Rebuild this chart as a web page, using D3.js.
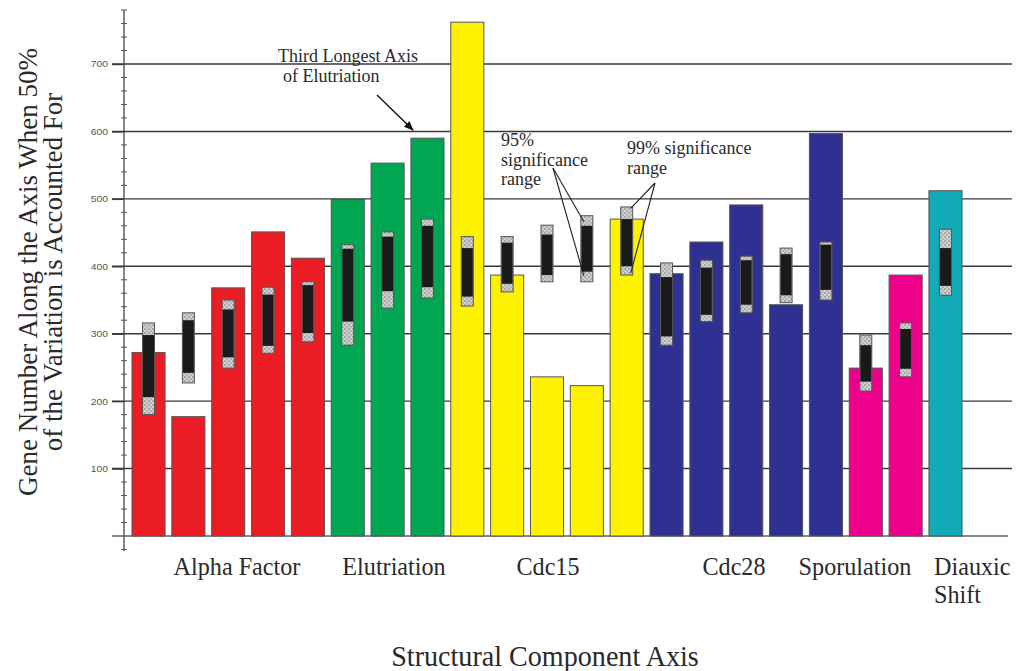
<!DOCTYPE html>
<html>
<head>
<meta charset="utf-8">
<script src="https://cdn.jsdelivr.net/npm/d3@7"></script>
<style>
  html, body { margin: 0; padding: 0; background: #fff; }
  svg { display: block; }
  text { font-family: "Liberation Serif", "Times New Roman", serif; fill: #2a2a2a; }
</style>
</head>
<body>
<svg id="chart" width="1030" height="671"></svg>
<script>
// Experiment groups along the structural component axis
const groupNames  = ["Alpha Factor", "Elutriation", "Cdc15", "Cdc28", "Sporulation", "Diauxic Shift"];
const groupCounts = [5, 3, 5, 5, 2, 1];
const groupColors = ["#ec1c24", "#00a651", "#fff200", "#2e3192", "#ec008c", "#12aab6"];

// Gene number at which 50% of the variation is accounted for, one per axis
const barValues = [272, 177, 368, 451, 412,
                   499, 553, 590,
                   762, 387, 236, 223, 470,
                   389, 436, 491, 343, 597,
                   249, 387,
                   512];

// Significance ranges per axis: 99% low, 95% low, 95% high, 99% high
const low99  = [180, 227, 249, 271, 288, 283, 338, 353, 341, 362, 377, 377, 387, 283, 318, 331, 346, 350, 215, 236, 357];
const low95  = [206, 242, 265, 282, 301, 318, 363, 369, 355, 374, 387, 392, 400, 296, 328, 343, 357, 365, 229, 248, 371];
const high95 = [298, 320, 336, 358, 372, 426, 444, 460, 427, 435, 447, 460, 470, 384, 398, 409, 418, 432, 283, 307, 427];
const high99 = [316, 331, 350, 369, 377, 432, 451, 470, 444, 444, 461, 475, 488, 405, 409, 415, 427, 436, 298, 316, 455];

const yTicks = [100, 200, 300, 400, 500, 600, 700];

const svg = d3.select("#chart");

// Build one record per bar from the arrays above
const rows = [];
let idx = 0;
groupCounts.forEach((n, g) => {
  for (let k = 0; k < n; k++) {
    rows.push({ i: idx, group: g, value: barValues[idx],
                lo99: low99[idx], lo95: low95[idx], hi95: high95[idx], hi99: high99[idx] });
    idx++;
  }
});

const x = d3.scaleBand()
  .domain(rows.map(d => d.i))
  .range([128.6, 965.4])
  .paddingInner(0.17)
  .paddingOuter(0.085);

const y = d3.scaleLinear().domain([0, 700]).range([536, 64]);

// checkered fill used for the 99% caps
const defs = svg.append("defs");
const pat = defs.append("pattern")
  .attr("id", "checker").attr("patternUnits", "userSpaceOnUse")
  .attr("width", 4).attr("height", 4);
pat.append("rect").attr("width", 4).attr("height", 4).attr("fill", "#cfcfcf");
pat.append("rect").attr("width", 2).attr("height", 2).attr("fill", "#a9a9a9");
pat.append("rect").attr("x", 2).attr("y", 2).attr("width", 2).attr("height", 2).attr("fill", "#b4b4b4");

// horizontal grid lines
svg.append("g").selectAll("line").data(yTicks).join("line")
  .attr("x1", 112).attr("x2", 1012)
  .attr("y1", d => y(d)).attr("y2", d => y(d))
  .attr("stroke", "#3a3a3a").attr("stroke-width", 1.4);

// baseline
svg.append("line")
  .attr("x1", 112).attr("x2", 1008).attr("y1", y(0)).attr("y2", y(0))
  .attr("stroke", "#888").attr("stroke-width", 2);

// y axis with long ticks every 100 and short ones every 20
const axisG = svg.append("g").attr("transform", "translate(124,0)");
const yAxis = d3.axisLeft(y).tickValues(yTicks).tickSize(12).tickPadding(2).tickFormat(d3.format("d"));
axisG.call(yAxis);
axisG.select(".domain").remove();
axisG.selectAll(".tick line").attr("stroke", "#3a3a3a").attr("stroke-width", 1.4);
axisG.selectAll(".tick text")
  .style("font-family", "'Liberation Sans', Arial, sans-serif")
  .style("font-size", "9px").style("fill", "#555")
  .attr("transform", "scale(1.15,1)");
axisG.append("line")
  .attr("x1", 0).attr("x2", 0).attr("y1", 10).attr("y2", 551)
  .attr("stroke", "#444").attr("stroke-width", 1.3);
const minorTicks = d3.range(-20, 800, 20).filter(v => y(v) > 10 && v % 100 !== 0);
axisG.selectAll(".minor").data(minorTicks).join("line")
  .attr("class", "minor")
  .attr("x1", -3).attr("x2", 3)
  .attr("y1", d => y(d)).attr("y2", d => y(d))
  .attr("stroke", "#555").attr("stroke-width", 1);

// bars
svg.append("g").selectAll("rect").data(rows).join("rect")
  .attr("x", d => x(d.i))
  .attr("width", x.bandwidth())
  .attr("y", d => y(d.value))
  .attr("height", d => y(0) - y(d.value))
  .attr("fill", d => groupColors[d.group])
  .attr("stroke", "#555").attr("stroke-width", 1);

// significance glyphs: 99% range checkered, 95% range black
const gw = 12;
const glyph = svg.append("g").selectAll("g").data(rows).join("g");
glyph.append("rect")
  .attr("x", d => x(d.i) + x.bandwidth() / 2 - gw / 2)
  .attr("width", gw)
  .attr("y", d => y(d.hi99))
  .attr("height", d => y(d.lo99) - y(d.hi99))
  .attr("fill", "url(#checker)")
  .attr("stroke", "#555").attr("stroke-width", 1);
glyph.append("rect")
  .attr("x", d => x(d.i) + x.bandwidth() / 2 - gw / 2 + 0.5)
  .attr("width", gw - 1)
  .attr("y", d => y(d.hi95))
  .attr("height", d => y(d.lo95) - y(d.hi95))
  .attr("fill", "#1a1a1a");

// helper for the slightly condensed serif labels
function label(px, py, str, size, sx, anchor) {
  return svg.append("text")
    .attr("transform", `translate(${px},${py}) scale(${sx},1)`)
    .attr("text-anchor", anchor || "start")
    .style("font-size", size + "px")
    .text(str);
}

// group labels under the axis
const labelPos = [237, 394, 548, 734, 855];
groupNames.slice(0, 5).forEach((name, g) => {
  label(labelPos[g], 575, name, 26, 0.93, "middle");
});
const [diauxA, diauxB] = groupNames[5].split(" ");
label(934, 575, diauxA, 26, 0.93);
label(934, 603, diauxB, 26, 0.93);

// axis titles
label(545, 666, "Structural Component Axis", 29, 0.97, "middle");

const yTitle = svg.append("text")
  .attr("transform", "translate(37,272) rotate(-90)")
  .attr("text-anchor", "middle")
  .style("font-size", "27px");
yTitle.append("tspan").attr("x", 0).attr("y", 0).text("Gene Number Along the Axis When 50%");
yTitle.append("tspan").attr("x", 0).attr("y", 25).text("of the Variation is Accounted For");

// annotations
defs.append("marker")
  .attr("id", "arrowhead").attr("viewBox", "0 0 10 10")
  .attr("refX", 9).attr("refY", 5)
  .attr("markerWidth", 7).attr("markerHeight", 7)
  .attr("orient", "auto")
  .append("path").attr("d", "M0,1 L10,5 L0,9 Z").attr("fill", "#111");

const note1 = svg.append("text").style("font-size", "18px");
note1.append("tspan").attr("x", 278).attr("y", 62).text("Third Longest Axis");
note1.append("tspan").attr("x", 283).attr("y", 82).text("of Elutriation");
svg.append("line")
  .attr("x1", 377).attr("y1", 95).attr("x2", 413).attr("y2", 130)
  .attr("stroke", "#111").attr("stroke-width", 1.4)
  .attr("marker-end", "url(#arrowhead)");

const note2 = svg.append("text").style("font-size", "18px");
note2.append("tspan").attr("x", 501).attr("y", 146).text("95%");
note2.append("tspan").attr("x", 501).attr("y", 166).text("significance");
note2.append("tspan").attr("x", 501).attr("y", 185).text("range");

const y4 = rows[11];
const cx4 = x(y4.i) + x.bandwidth() / 2;
svg.append("g").selectAll("line").data([y4.hi95 + 6, y4.lo95 - 6]).join("line")
  .attr("x1", 553).attr("y1", 168)
  .attr("x2", cx4 - 3).attr("y2", d => y(d))
  .attr("stroke", "#222").attr("stroke-width", 1.1);

const note3 = svg.append("text").style("font-size", "18px");
note3.append("tspan").attr("x", 627).attr("y", 154).text("99% significance");
note3.append("tspan").attr("x", 627).attr("y", 174).text("range");

const y5 = rows[12];
const cx5 = x(y5.i) + x.bandwidth() / 2;
svg.append("g").selectAll("line").data([y5.hi99 - 2, y5.lo99 + 3]).join("line")
  .attr("x1", 655).attr("y1", 183)
  .attr("x2", cx5 + 4).attr("y2", d => y(d))
  .attr("stroke", "#222").attr("stroke-width", 1.1);
</script>
</body>
</html>
